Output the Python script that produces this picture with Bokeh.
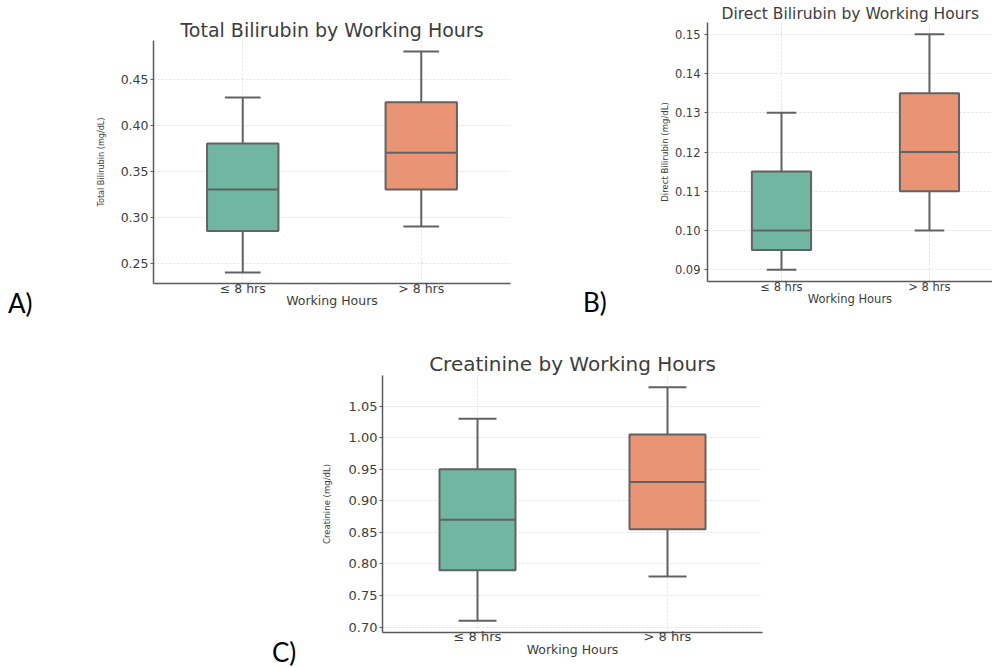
from bokeh.plotting import figure
from bokeh.models import Range1d, FixedTicker, PrintfTickFormatter, ColumnDataSource, Div, Spacer
from bokeh.layouts import column, row
from bokeh.embed import file_html
from bokeh.resources import INLINE

# ---------------- data ----------------
categories = ["≤ 8 hrs", "> 8 hrs"]
box_colors = ["#71b6a1", "#e99575"]

# Total bilirubin (mg/dL)
tb_lower = [0.24, 0.29]
tb_q1 = [0.285, 0.33]
tb_median = [0.33, 0.37]
tb_q3 = [0.38, 0.425]
tb_upper = [0.43, 0.48]
tb_ticks = [0.25, 0.30, 0.35, 0.40, 0.45]

# Direct bilirubin (mg/dL)
db_lower = [0.09, 0.10]
db_q1 = [0.095, 0.11]
db_median = [0.10, 0.12]
db_q3 = [0.115, 0.135]
db_upper = [0.13, 0.15]
db_ticks = [0.09, 0.10, 0.11, 0.12, 0.13, 0.14, 0.15]

# Creatinine (mg/dL)
cr_lower = [0.71, 0.78]
cr_q1 = [0.79, 0.855]
cr_median = [0.87, 0.93]
cr_q3 = [0.95, 1.005]
cr_upper = [1.03, 1.08]
cr_ticks = [0.70, 0.75, 0.80, 0.85, 0.90, 0.95, 1.00, 1.05]

LINE = "#626262"
TEXT = "#3d3d3d"
MAIN_FONT = "DejaVu Sans"
COND_FONT = "DejaVu Sans Condensed, Liberation Sans Narrow, DejaVu Sans"


def make_panel(width, height, borders, x_end, lower, q1, med, q3, upper, yticks,
               title, ylabel, tick_size, title_size, xlabel_size, ylabel_size,
               ytick_standoff, ylabel_standoff, xtick_standoff, xlabel_standoff,
               title_align, title_offset):
    lo, hi = min(lower), max(upper)
    pad = (hi - lo) * 0.05
    p = figure(width=width, height=height, output_backend="svg", toolbar_location=None,
               x_range=Range1d(-0.5, x_end), y_range=Range1d(lo - pad, hi + pad),
               min_border_left=borders[0], min_border_right=borders[1],
               min_border_top=borders[2], min_border_bottom=borders[3])
    p.outline_line_color = None
    p.background_fill_color = "white"
    p.border_fill_color = "white"

    xs = list(range(len(categories)))
    src = ColumnDataSource(dict(
        x=xs, lower=lower, q1=q1, med=med, q3=q3, upper=upper, color=box_colors,
        cap_l=[x - 0.1 for x in xs], cap_r=[x + 0.1 for x in xs],
        box_l=[x - 0.2 for x in xs], box_r=[x + 0.2 for x in xs]))

    p.segment(x0="x", y0="lower", x1="x", y1="q1", source=src, line_color=LINE, line_width=2)
    p.segment(x0="x", y0="q3", x1="x", y1="upper", source=src, line_color=LINE, line_width=2)
    p.segment(x0="cap_l", y0="lower", x1="cap_r", y1="lower", source=src, line_color=LINE, line_width=2)
    p.segment(x0="cap_l", y0="upper", x1="cap_r", y1="upper", source=src, line_color=LINE, line_width=2)
    p.vbar(x="x", width=0.4, bottom="q1", top="q3", source=src, fill_color="color",
           line_color=LINE, line_width=2)
    p.segment(x0="box_l", y0="med", x1="box_r", y1="med", source=src, line_color=LINE, line_width=2)

    # axes
    p.xaxis.ticker = FixedTicker(ticks=xs)
    p.xaxis.major_label_overrides = {i: c for i, c in enumerate(categories)}
    p.yaxis.ticker = FixedTicker(ticks=yticks)
    p.yaxis.formatter = PrintfTickFormatter(format="%.2f")
    for ax in (p.xaxis[0], p.yaxis[0]):
        ax.axis_line_color = "#5a5a5a"
        ax.axis_line_width = 1.5
        ax.major_tick_line_color = "#5a5a5a"
        ax.major_tick_out = 3
        ax.major_tick_in = 0
        ax.minor_tick_line_color = None
        ax.major_label_text_font = MAIN_FONT
        ax.major_label_text_font_size = tick_size
        ax.major_label_text_color = TEXT
        ax.axis_label_text_color = TEXT
        ax.axis_label_text_font_style = "normal"
    p.xaxis.major_tick_out = 0
    p.yaxis.major_label_standoff = ytick_standoff
    p.xaxis.major_label_standoff = xtick_standoff
    p.xaxis.axis_label = "Working Hours"
    p.xaxis.axis_label_text_font = MAIN_FONT
    p.xaxis.axis_label_text_font_size = xlabel_size
    p.xaxis.axis_label_standoff = xlabel_standoff
    p.yaxis.axis_label = ylabel
    p.yaxis.axis_label_text_font = COND_FONT
    p.yaxis.axis_label_text_font_size = ylabel_size
    p.yaxis.axis_label_standoff = ylabel_standoff

    p.xgrid.grid_line_color = "#e0e0e0"
    p.xgrid.grid_line_dash = "2 2"
    p.ygrid.grid_line_color = "#e0e0e0"
    p.ygrid.grid_line_dash = "2 2"

    p.title.text = title
    p.title.text_font = MAIN_FONT
    p.title.text_font_size = title_size
    p.title.text_font_style = "normal"
    p.title.text_color = TEXT
    p.title.align = title_align
    p.title.offset = title_offset
    p.title.standoff = 0
    return p


def tag(text, top, width, height, pad_left):
    d = Div(text='<span style="font-family:Lato,\'Open Sans\',sans-serif;font-size:26px;'
                 'line-height:1;color:#000000;white-space:nowrap;padding-left:%dpx">' % pad_left
                 + text + '</span>',
            width=width, height=height, margin=0, styles={"overflow": "visible"})
    return column(Spacer(width=width, height=top, margin=0), d, spacing=0, margin=0)


def wrap(p, w):
    return column(Spacer(width=w, height=0, margin=0), p, spacing=0, margin=0)


pa = make_panel(520, 330, (113, 50, 40, 47), 1.5,
                tb_lower, tb_q1, tb_median, tb_q3, tb_upper, tb_ticks,
                "Total Bilirubin by Working Hours", "Total Bilirubin (mg/dL)",
                "12.5px", "19px", "12.5px", "9px", 2, 12, -3, -6,
                "center", 0)

pb = make_panel(372, 330, (87, 0, 22, 49), 1.426,
                db_lower, db_q1, db_median, db_q3, db_upper, db_ticks,
                "Direct Bilirubin by Working Hours", "Direct Bilirubin (mg/dL)",
                "11.5px", "15.5px", "11.5px", "9.5px", 4, 2, -2, -5,
                "left", 14)

pc = make_panel(502, 336, (82, 40, 45, 34), 1.5,
                cr_lower, cr_q1, cr_median, cr_q3, cr_upper, cr_ticks,
                "Creatinine by Working Hours", "Creatinine (mg/dL)",
                "13px", "20px", "12.5px", "9.5px", 2, 14, -4, -5,
                "center", 0)

top_row = row(tag("A)", 290, 40, 30, 8), wrap(pa, 520),
              tag("B)", 289, 60, 30, 23), wrap(pb, 372), spacing=0)
bottom_row = row(Spacer(width=272, height=10, margin=0), tag("C)", 309, 28, 27, 0), pc, spacing=0)
layout = column(top_row, bottom_row, spacing=0)

open("out.html", "w").write(file_html(layout, INLINE))
